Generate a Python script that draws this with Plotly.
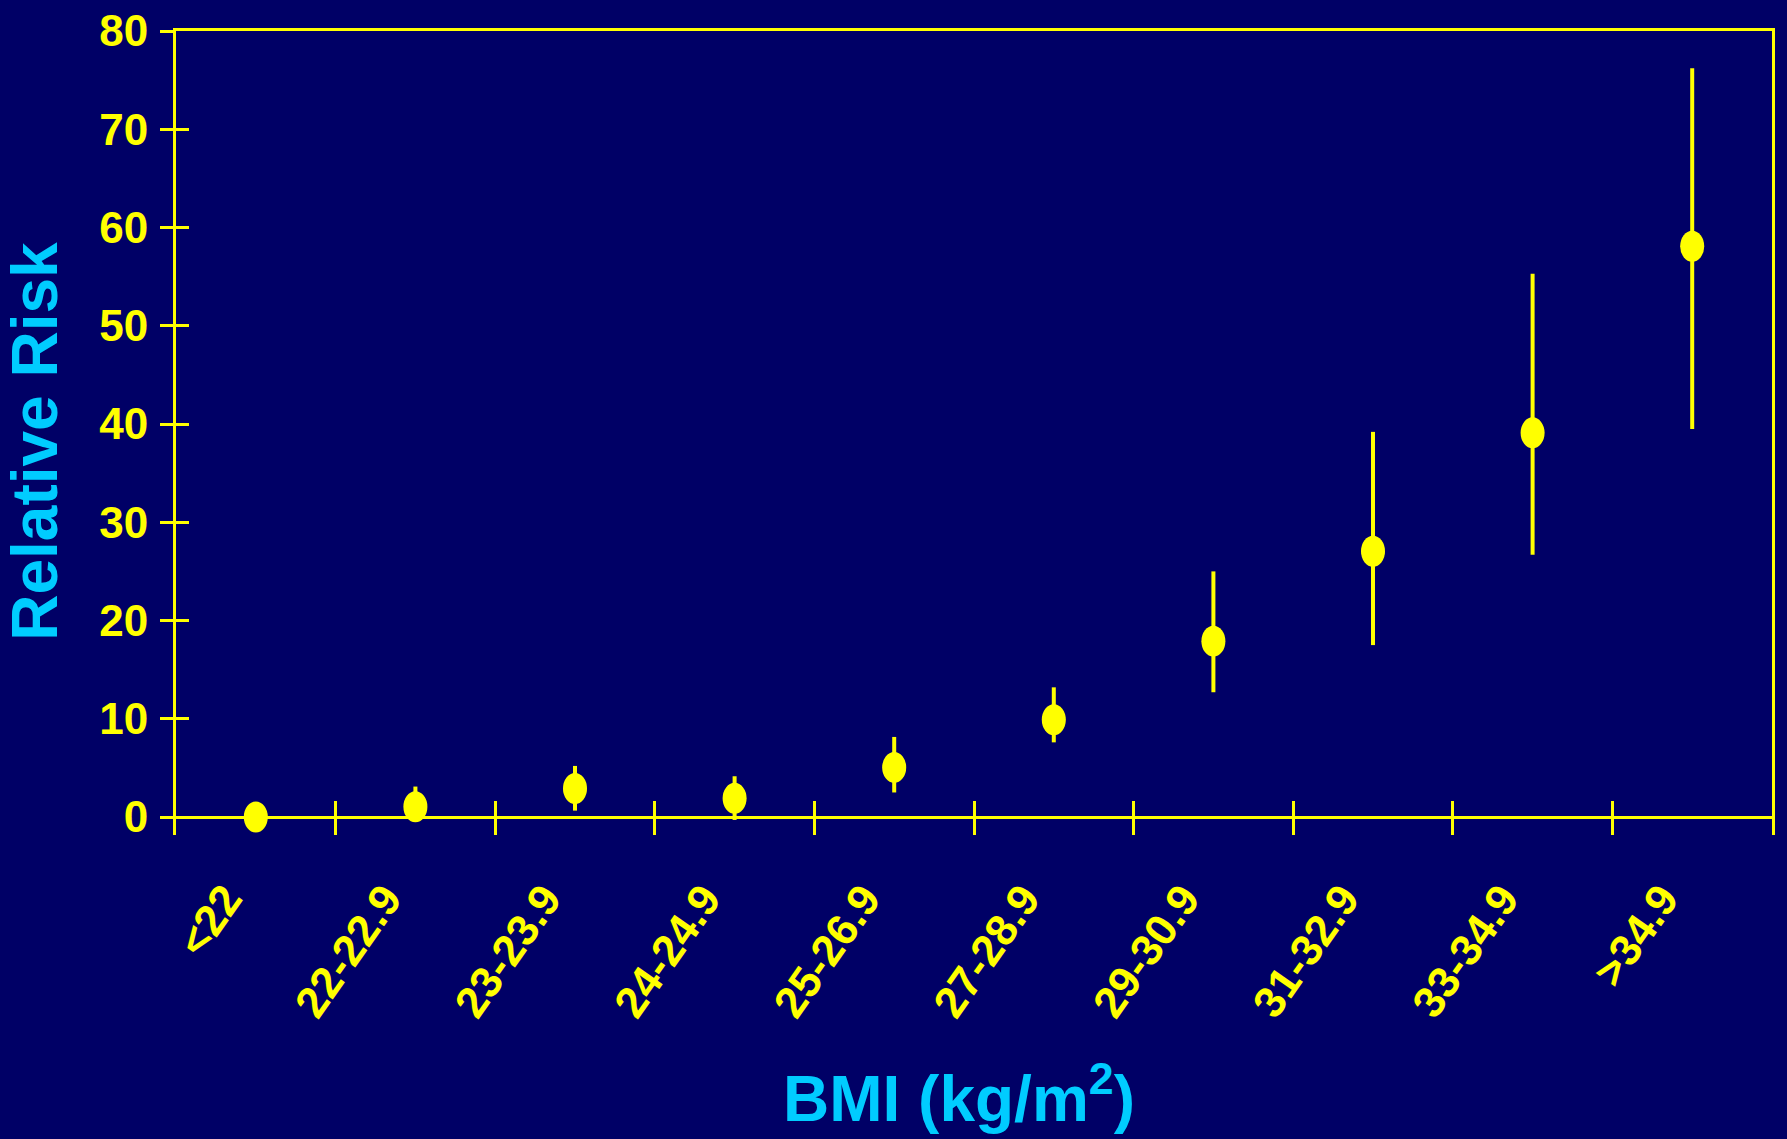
import plotly.graph_objects as go

# BMI categories and relative risk with confidence limits
bmi_groups = ["<22", "22-22.9", "23-23.9", "24-24.9", "25-26.9",
              "27-28.9", "29-30.9", "31-32.9", "33-34.9", ">34.9"]
relative_risk = [0.0, 1.05, 2.9, 1.9, 5.05, 9.9, 17.9, 27.05, 39.1, 58.1]
upper_limit = [0.0, 3.1, 5.2, 4.15, 8.15, 13.2, 25.0, 39.2, 55.3, 76.2]
lower_limit = [0.0, 0.3, 0.65, -0.3, 2.5, 7.6, 12.7, 17.5, 26.7, 39.5]
y_ticks = [0, 10, 20, 30, 40, 50, 60, 70, 80]

NAVY = "#000066"
YELLOW = "#FFFF00"
CYAN = "#00CCFF"
SANS = "Liberation Sans, Arial, sans-serif"

err_plus = [u - r for u, r in zip(upper_limit, relative_risk)]
err_minus = [r - l for r, l in zip(relative_risk, lower_limit)]

fig = go.Figure()
fig.add_trace(go.Scatter(
    x=bmi_groups, y=relative_risk, mode="markers",
    marker=dict(color=YELLOW, size=23, symbol="circle", line=dict(width=0)),
    error_y=dict(type="data", symmetric=False, array=err_plus,
                 arrayminus=err_minus, color=YELLOW, thickness=4, width=0),
    cliponaxis=False, showlegend=False,
))

# elliptical point markers (taller than wide)
for g, r in zip(bmi_groups, relative_risk):
    fig.add_shape(type="circle", xref="x", yref="y",
                  xsizemode="pixel", ysizemode="pixel",
                  xanchor=g, yanchor=r, x0=-12, x1=12, y0=-15.5, y1=15.5,
                  fillcolor=YELLOW, line=dict(width=0), layer="above")

title_font = dict(family=SANS, size=64, color=CYAN, weight="bold")

n = len(bmi_groups)
fig.update_layout(
    width=1787, height=1139,
    margin=dict(l=176, r=15, t=31, b=304),
    paper_bgcolor=NAVY, plot_bgcolor=NAVY,
    showlegend=False,
    xaxis=dict(
        type="category", categoryorder="array", categoryarray=bmi_groups,
        range=[-0.5, n - 0.5], tickson="boundaries", automargin=False,
        ticks="inside", ticklen=34, tickwidth=2.5, tickcolor=YELLOW,
        showline=False, showgrid=False, zeroline=False,
        tickangle=-55, ticklabelstandoff=28, ticklabelshift=-30,
        tickfont=dict(family=SANS, size=44, color=YELLOW, weight="bold"),
    ),
    xaxis2=dict(
        overlaying="x", side="top", range=[-0.5, n - 0.5], automargin=False,
        showline=True, linecolor=YELLOW, linewidth=3,
        showticklabels=False, ticks="", showgrid=False, zeroline=False,
    ),
    yaxis=dict(
        range=[-1.83, 80], tickvals=y_ticks, automargin=False,
        ticks="outside", ticklen=13, tickwidth=2.5, tickcolor=YELLOW,
        showline=True, linecolor=YELLOW, linewidth=3, mirror=True,
        showgrid=False, zeroline=True, zerolinecolor=YELLOW, zerolinewidth=3,
        ticklabelstandoff=3,
        tickfont=dict(family=SANS, size=44, color=YELLOW, weight="bold"),
    ),
    yaxis2=dict(
        overlaying="y", range=[-1.83, 80], tickvals=y_ticks, automargin=False,
        ticks="inside", ticklen=13, tickwidth=2.5, tickcolor=YELLOW,
        showticklabels=False, showline=False, showgrid=False, zeroline=False,
    ),
    annotations=[
        dict(text="BMI (kg/m<sup>2</sup>)", xref="paper", yref="paper",
             x=0.4903, y=-0.322, xanchor="center", yanchor="middle",
             showarrow=False, font=title_font),
        dict(text="Relative Risk", xref="paper", yref="paper",
             x=-0.0885, y=0.49, xanchor="center", yanchor="middle",
             textangle=-90, showarrow=False, borderpad=0, font=title_font),
    ],
)

# invisible companion trace so the overlay axes are laid out
fig.add_trace(go.Scatter(x=[-0.5, n - 0.5], y=[0, 0], xaxis="x2", yaxis="y2",
                         mode="markers", marker=dict(opacity=0),
                         hoverinfo="skip", showlegend=False))

fig.write_html("out.html")
